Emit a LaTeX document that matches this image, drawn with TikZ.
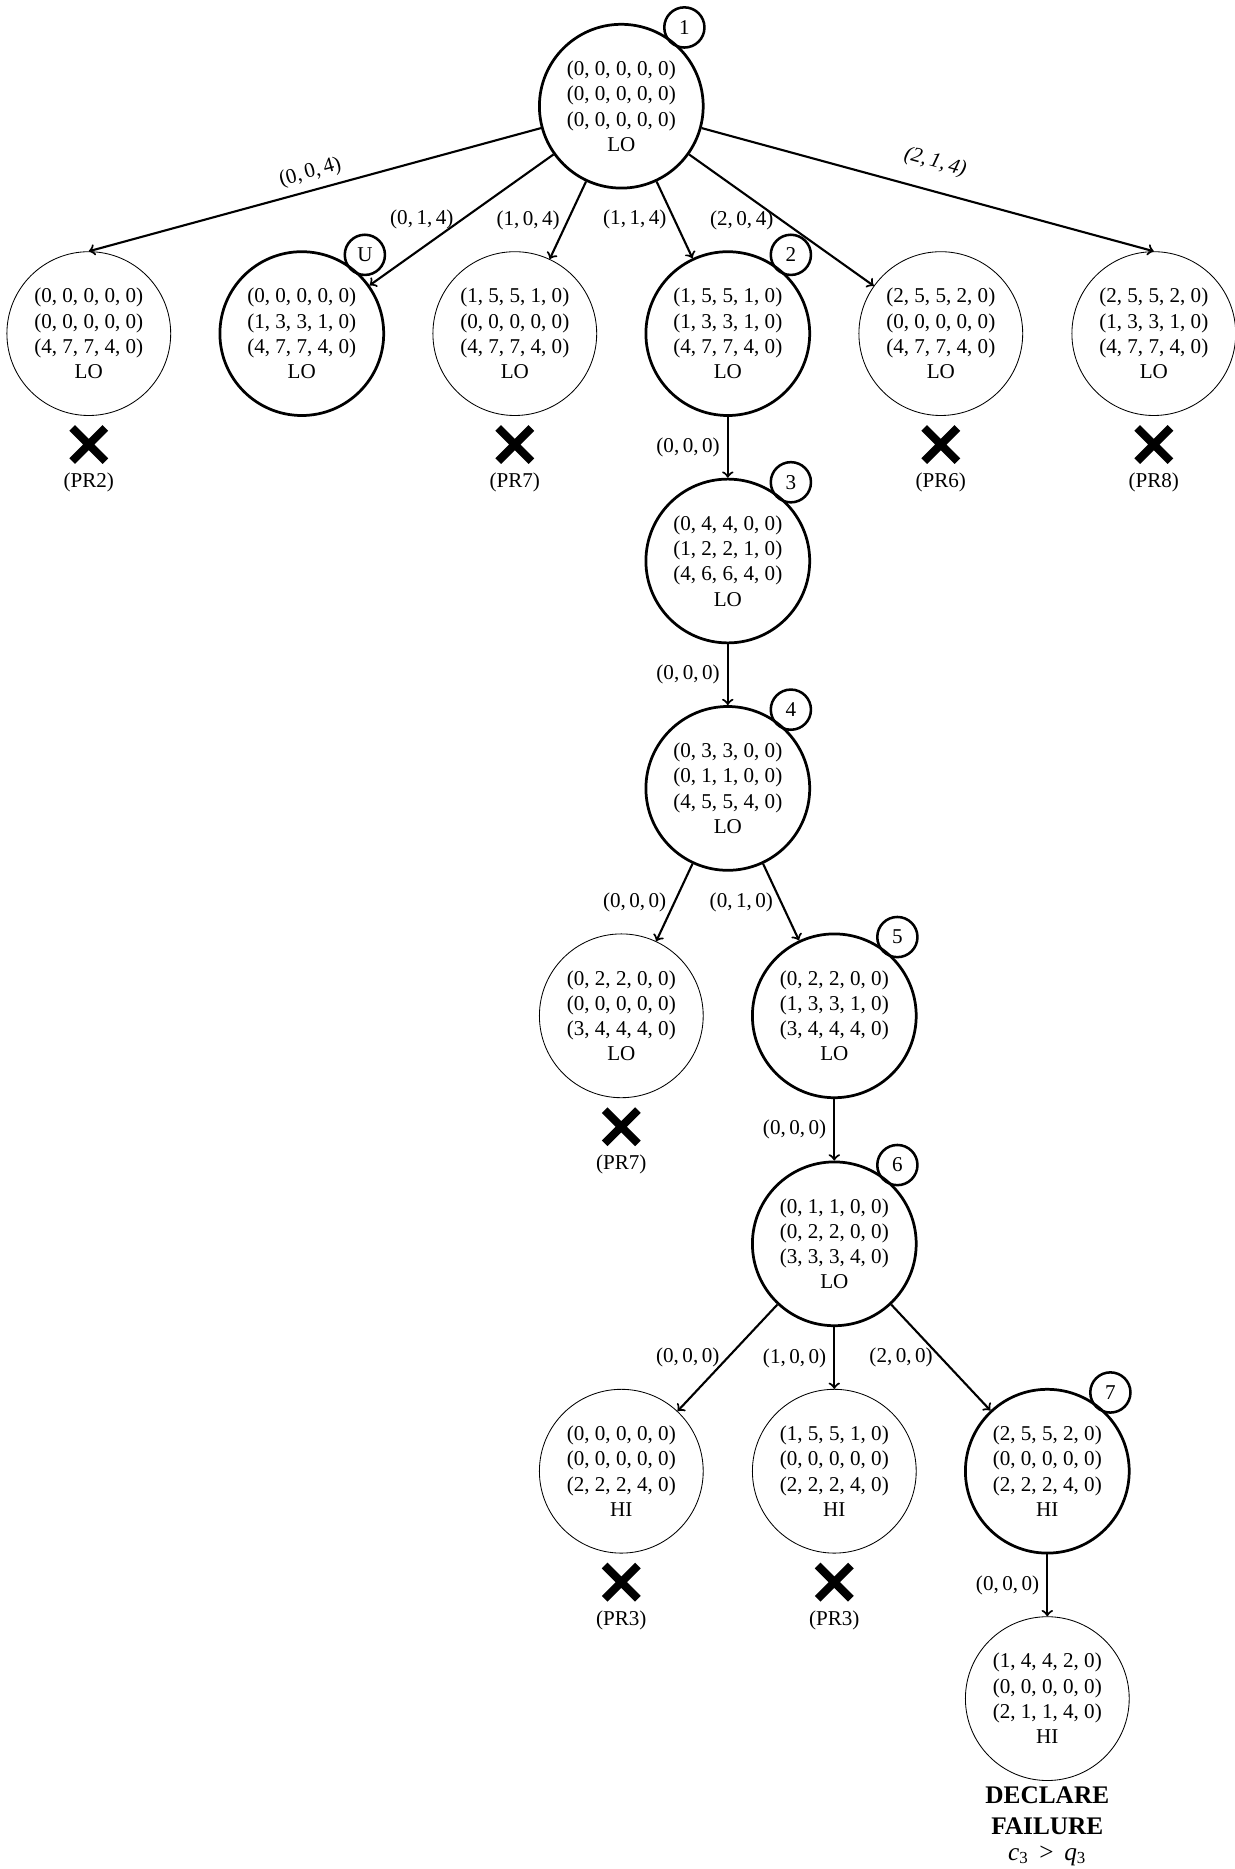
\documentclass[tikz,border=0pt]{standalone}
\usepackage{fontspec}
\setmainfont{Liberation Serif}
\usetikzlibrary{positioning,shapes.misc}

\tikzset{
  config/.style={circle, draw, minimum size=2.73cm, inner sep=0pt, align=center},
  active/.style={config, line width=1.3pt},
  idx/.style={circle, draw, line width=1.2pt, minimum size=0.67cm, inner sep=0pt},
  tagged/.style={label={[idx]53:#1}},
  pruned/.style={cross out, draw, line width=3.8pt, minimum size=0.42cm, inner sep=0pt},
  move/.style={->, line width=1pt},
  bigbold/.style={font=\fontsize{12}{14}\selectfont\bfseries, anchor=base, inner sep=0pt}
}

\begin{document}
\begin{tikzpicture}[label distance=-1.7pt]
        \useasboundingbox (0,0) rectangle (20.567,-31.15);

        % root
        \node[active, tagged=1] (n1) at (10.355,-1.77) {(0, 0, 0, 0, 0)\\(0, 0, 0, 0, 0)\\(0, 0, 0, 0, 0)\\LO};

        % first level
        \node[config] (a) at (1.48,-5.56) {(0, 0, 0, 0, 0)\\(0, 0, 0, 0, 0)\\(4, 7, 7, 4, 0)\\LO};
        \node[active, tagged=U] (b) at (5.03,-5.56) {(0, 0, 0, 0, 0)\\(1, 3, 3, 1, 0)\\(4, 7, 7, 4, 0)\\LO};
        \node[config] (c) at (8.58,-5.56) {(1, 5, 5, 1, 0)\\(0, 0, 0, 0, 0)\\(4, 7, 7, 4, 0)\\LO};
        \node[active, tagged=2] (n2) at (12.13,-5.56) {(1, 5, 5, 1, 0)\\(1, 3, 3, 1, 0)\\(4, 7, 7, 4, 0)\\LO};
        \node[config] (e) at (15.68,-5.56) {(2, 5, 5, 2, 0)\\(0, 0, 0, 0, 0)\\(4, 7, 7, 4, 0)\\LO};
        \node[config] (f) at (19.23,-5.56) {(2, 5, 5, 2, 0)\\(1, 3, 3, 1, 0)\\(4, 7, 7, 4, 0)\\LO};

        \draw[move] (n1) -- node[sloped, above] {(0,\,0,\,4)} (a.north);
        \draw[move] (n1) -- node[left] {(0,\,1,\,4)} (b);
        \draw[move] (n1) -- node[left] {(1,\,0,\,4)} (c);
        \draw[move] (n1) -- node[left] {(1,\,1,\,4)} (n2);
        \draw[move] (n1) -- node[left] {(2,\,0,\,4)} (e);
        \draw[move] (n1) -- node[sloped, above=5pt] {\itshape (2,\,1,\,4)} (f.north);

        \node[pruned, below=0.2cm of a] (xa) {};
        \node[below=2pt of xa] (pa) {(PR2)};
        \node[pruned, below=0.2cm of c] (xc) {};
        \node[below=2pt of xc] (pc) {(PR7)};
        \node[pruned, below=0.2cm of e] (xe) {};
        \node[below=2pt of xe] (pe) {(PR6)};
        \node[pruned, below=0.2cm of f] (xf) {};
        \node[below=2pt of xf] (pf) {(PR8)};

        % chain below 2
        \node[active, tagged=3] (n3) at (12.13,-9.35) {(0, 4, 4, 0, 0)\\(1, 2, 2, 1, 0)\\(4, 6, 6, 4, 0)\\LO};
        \node[active, tagged=4] (n4) at (12.13,-13.14) {(0, 3, 3, 0, 0)\\(0, 1, 1, 0, 0)\\(4, 5, 5, 4, 0)\\LO};
        \draw[move] (n2) -- node[left] {(0,\,0,\,0)} (n3);
        \draw[move] (n3) -- node[left] {(0,\,0,\,0)} (n4);

        \node[config] (g) at (10.355,-16.93) {(0, 2, 2, 0, 0)\\(0, 0, 0, 0, 0)\\(3, 4, 4, 4, 0)\\LO};
        \node[active, tagged=5] (n5) at (13.905,-16.93) {(0, 2, 2, 0, 0)\\(1, 3, 3, 1, 0)\\(3, 4, 4, 4, 0)\\LO};
        \draw[move] (n4) -- node[left] {(0,\,0,\,0)} (g);
        \draw[move] (n4) -- node[left] {(0,\,1,\,0)} (n5);
        \node[pruned, below=0.2cm of g] (xg) {};
        \node[below=2pt of xg] (pg) {(PR7)};

        \node[active, tagged=6] (n6) at (13.905,-20.73) {(0, 1, 1, 0, 0)\\(0, 2, 2, 0, 0)\\(3, 3, 3, 4, 0)\\LO};
        \draw[move] (n5) -- node[left] {(0,\,0,\,0)} (n6);

        \node[config] (h) at (10.355,-24.52) {(0, 0, 0, 0, 0)\\(0, 0, 0, 0, 0)\\(2, 2, 2, 4, 0)\\HI};
        \node[config] (i) at (13.905,-24.52) {(1, 5, 5, 1, 0)\\(0, 0, 0, 0, 0)\\(2, 2, 2, 4, 0)\\HI};
        \node[active, tagged=7] (n7) at (17.455,-24.52) {(2, 5, 5, 2, 0)\\(0, 0, 0, 0, 0)\\(2, 2, 2, 4, 0)\\HI};
        \draw[move] (n6) -- node[left] {(0,\,0,\,0)} (h);
        \draw[move] (n6) -- node[left] {(1,\,0,\,0)} (i);
        \draw[move] (n6) -- node[left] {(2,\,0,\,0)} (n7);
        \node[pruned, below=0.2cm of h] (xh) {};
        \node[below=2pt of xh] (ph) {(PR3)};
        \node[pruned, below=0.2cm of i] (xi) {};
        \node[below=2pt of xi] (pi) {(PR3)};

        \node[config] (fin) at (17.455,-28.31) {(1, 4, 4, 2, 0)\\(0, 0, 0, 0, 0)\\(2, 1, 1, 4, 0)\\HI};
        \draw[move] (n7) -- node[left] {(0,\,0,\,0)} (fin);

        \node[bigbold] (decl) at (17.455,-30.05) {DECLARE};
        \node[bigbold] (fail) at (17.455,-30.58) {FAILURE};
        \node[anchor=base, inner sep=0pt, font=\fontsize{12}{14}\selectfont] (cond) at (17.455,-31.0) {\textit{c}\textsubscript{3} \,>\, \textit{q}\textsubscript{3}};
\end{tikzpicture}
\end{document}
